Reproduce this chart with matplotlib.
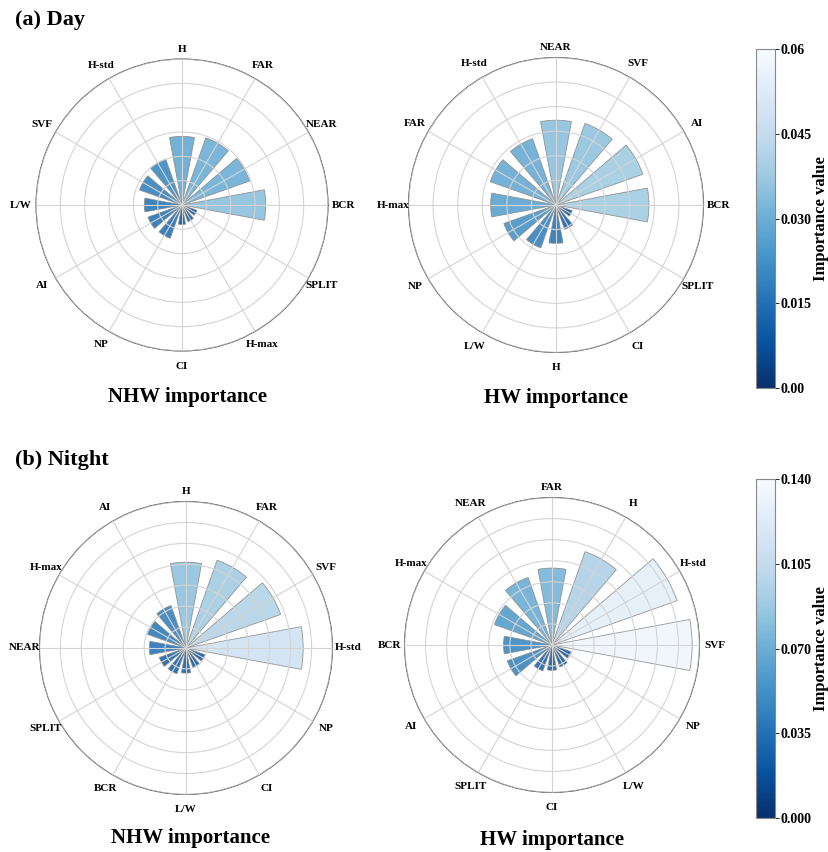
import numpy as np
import matplotlib
matplotlib.use("Agg")
import matplotlib.pyplot as plt
from matplotlib.colors import Normalize
from matplotlib.cm import ScalarMappable

plt.rcParams["font.family"] = ["Liberation Serif", "DejaVu Serif"]
plt.rcParams["font.weight"] = "bold"

# labels go counter-clockwise starting from 0 deg (east)
day_nhw_labels = ["BCR", "NEAR", "FAR", "H", "H-std", "SVF", "L/W", "AI", "NP", "CI", "H-max", "SPLIT"]
day_nhw_values = [0.0344, 0.0295, 0.0293, 0.0282, 0.0200, 0.0185, 0.0155, 0.0148, 0.0145, 0.0080, 0.0072, 0.0065]

day_hw_labels = ["BCR", "AI", "SVF", "NEAR", "H-std", "FAR", "H-max", "NP", "L/W", "H", "CI", "SPLIT"]
day_hw_values = [0.0378, 0.0375, 0.0352, 0.0345, 0.0286, 0.0284, 0.0266, 0.0225, 0.0185, 0.0156, 0.0105, 0.0070]

night_nhw_labels = ["H-std", "SVF", "FAR", "H", "AI", "H-max", "NEAR", "SPLIT", "BCR", "L/W", "CI", "NP"]
night_nhw_values = [0.112, 0.096, 0.089, 0.082, 0.043, 0.039, 0.035, 0.027, 0.026, 0.024, 0.020, 0.019]

night_hw_labels = ["SVF", "H-std", "H", "FAR", "NEAR", "H-max", "BCR", "AI", "SPLIT", "CI", "L/W", "NP"]
night_hw_values = [0.133, 0.126, 0.094, 0.073, 0.068, 0.058, 0.046, 0.045, 0.026, 0.024, 0.022, 0.019]

day_max = 0.06
night_max = 0.14
day_ticks = [0.0, 0.015, 0.030, 0.045, 0.06]
day_ticklabels = ["0.00", "0.015", "0.030", "0.045", "0.06"]
night_ticks = [0.0, 0.035, 0.070, 0.105, 0.140]
night_ticklabels = ["0.000", "0.035", "0.070", "0.105", "0.140"]

W, H = 829, 852
fig = plt.figure(figsize=(W / 100, H / 100), dpi=100)
cmap = plt.get_cmap("Blues_r")


def px_axes(cx, cy, r):
    return [(cx - r) / W, 1 - (cy + r) / H, 2 * r / W, 2 * r / H]


def rose(rect, labels, values, vmax, nrings, title, title_xy):
    ax = fig.add_axes(rect, projection="polar")
    n = len(labels)
    theta = np.arange(n) * 2 * np.pi / n
    norm = Normalize(0, vmax)
    ax.bar(theta, values, width=2 * np.pi / n * 0.7, bottom=0,
           color=cmap(norm(np.array(values))), edgecolor="#8a8a8a",
           linewidth=0.6, alpha=0.88, zorder=2)
    ax.set_ylim(0, vmax)
    ax.set_yticks(np.linspace(0, vmax, nrings + 1)[1:])
    ax.set_yticklabels([])
    ax.set_xticks(theta)
    ax.set_xticklabels([])
    ax.tick_params(axis="x", length=0)
    for th, lab in zip(theta, labels):
        rr = 1.065 if np.isclose(np.sin(th), 1) else 1.105
        ax.text(th, vmax * rr, lab, ha="center", va="center", fontsize=8,
                fontweight="bold", clip_on=False)
    ax.grid(True, color="#d4d4d4", linewidth=0.8, zorder=3)
    ax.set_axisbelow(False)
    ax.spines["polar"].set_color("#555555")
    ax.spines["polar"].set_linewidth(0.8)
    fig.text(title_xy[0] / W, 1 - title_xy[1] / H, title, ha="center", va="center",
             fontsize=15, fontweight="bold")
    return ax


rose(px_axes(182, 205, 146), day_nhw_labels, day_nhw_values, day_max, 6,
     "NHW importance", (188, 397))
rose(px_axes(556, 205, 147.5), day_hw_labels, day_hw_values, day_max, 6,
     "HW importance", (556, 398))
rose(px_axes(186, 648, 146.5), night_nhw_labels, night_nhw_values, night_max, 7,
     "NHW importance", (191, 838))
rose(px_axes(552, 645, 147.5), night_hw_labels, night_hw_values, night_max, 7,
     "HW importance", (552, 840))

fig.text(15 / W, 1 - 20 / H, "(a) Day", ha="left", va="center", fontsize=16, fontweight="bold")
fig.text(15 / W, 1 - 460 / H, "(b) Nitght", ha="left", va="center", fontsize=16, fontweight="bold")


def colorbar(top, vmax, ticks, ticklabels):
    cax = fig.add_axes([756 / W, 1 - (top + 339) / H, 19 / W, 339 / H])
    sm = ScalarMappable(norm=Normalize(0, vmax), cmap=cmap)
    cb = fig.colorbar(sm, cax=cax)
    cb.set_ticks(ticks)
    cb.set_ticklabels(ticklabels)
    cb.ax.tick_params(labelsize=10, length=3, width=0.6, pad=1)
    for t in cb.ax.get_yticklabels():
        t.set_fontweight("bold")
    cb.outline.set_edgecolor("#888888")
    cb.outline.set_linewidth(0.8)
    cb.set_label("Importance value", fontsize=12, fontweight="bold", labelpad=1)


colorbar(49, day_max, day_ticks, day_ticklabels)
colorbar(479, night_max, night_ticks, night_ticklabels)

fig.savefig("out.png", dpi=100)
